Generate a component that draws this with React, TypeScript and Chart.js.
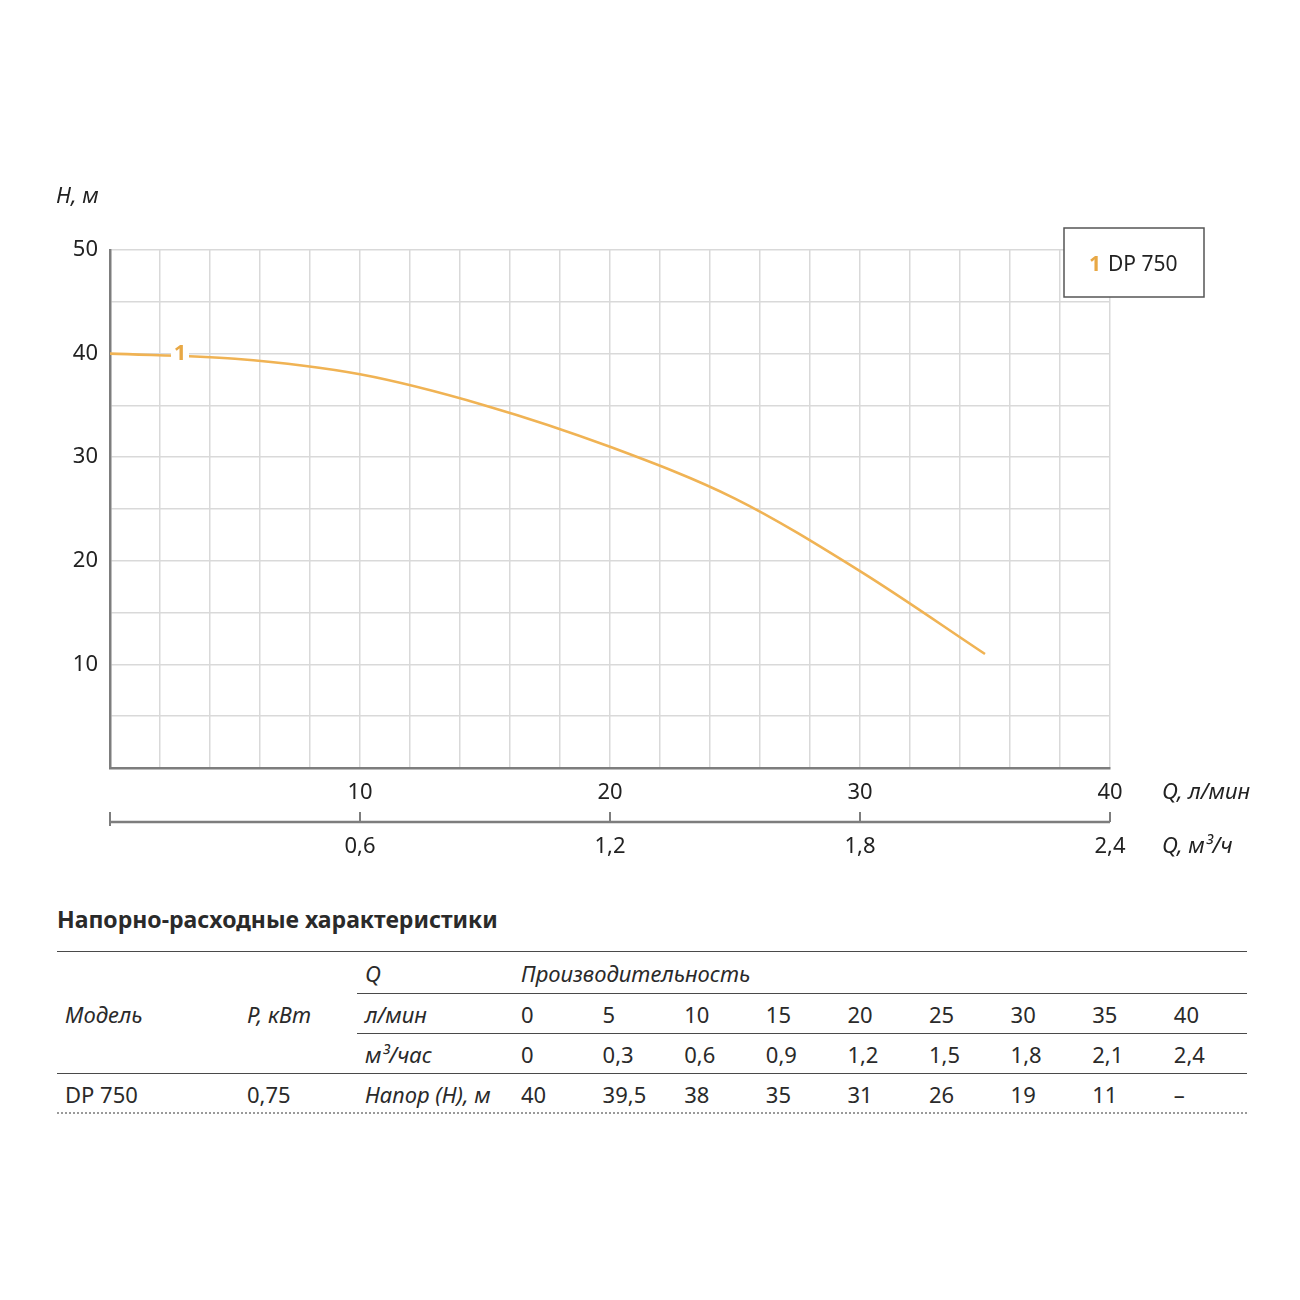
import React, { useEffect, useRef } from 'react';
import { Chart, registerables } from 'chart.js';

Chart.register(...registerables);

// ---- data ----
const flowLmin = [0, 5, 10, 15, 20, 25, 30, 35, 40];
const flowM3hLabels = ['0', '0,3', '0,6', '0,9', '1,2', '1,5', '1,8', '2,1', '2,4'];
const headM: (number | null)[] = [40, 39.5, 38, 35, 31, 26, 19, 11, null];
const headLabels = ['40', '39,5', '38', '35', '31', '26', '19', '11', '–'];
const x2TickValues = [0, 0.6, 1.2, 1.8, 2.4];
const modelName = 'DP 750';
const modelPower = '0,75';
const seriesNumber = '1';

const FONT = '"Noto Sans", sans-serif';
const CURVE = '#f0b354';
const LABEL_ORANGE = '#e8a845';
const AXIS = '#7d7d7d';
const GRID = '#d9d9d9';
const TEXT = '#222';

const fmt = (v: number) => String(Math.round(v * 10) / 10).replace('.', ',');

const overlayPlugin = {
  id: 'overlay',
  afterDraw(chart: any) {
    const ctx = chart.ctx as CanvasRenderingContext2D;
    const xs = chart.scales.x;
    const ys = chart.scales.y;
    const x2 = chart.scales.x2;
    ctx.save();

    // series label "1" on the curve
    const lx = xs.getPixelForValue(2.8);
    const ly = ys.getPixelForValue(40);
    ctx.fillStyle = '#fff';
    ctx.fillRect(lx - 9, ly - 12, 18, 24);
    ctx.font = `bold 22px ${FONT}`;
    ctx.fillStyle = LABEL_ORANGE;
    ctx.textAlign = 'center';
    ctx.textBaseline = 'middle';
    ctx.fillText(seriesNumber, lx, ly);

    // legend box
    ctx.fillStyle = '#fff';
    ctx.fillRect(1064, 228, 140, 69);
    ctx.strokeStyle = '#555';
    ctx.lineWidth = 1.5;
    ctx.strokeRect(1064, 228, 140, 69);
    ctx.textAlign = 'left';
    ctx.font = `bold 21px ${FONT}`;
    ctx.fillStyle = LABEL_ORANGE;
    ctx.fillText(seriesNumber, 1089, 265);
    ctx.font = `21px ${FONT}`;
    ctx.fillStyle = TEXT;
    ctx.fillText(modelName, 1108, 265);

    // axis titles
    ctx.font = `italic 22px ${FONT}`;
    ctx.fillStyle = TEXT;
    ctx.fillText('H, м', 56, 197);
    ctx.fillText('Q, л/мин', 1162, 793);
    ctx.fillText('Q, м³/ч', 1162, 847);

    // secondary axis (m3/h)
    const axisY = 822;
    ctx.strokeStyle = AXIS;
    ctx.lineWidth = 2.5;
    ctx.beginPath();
    ctx.moveTo(x2.getPixelForValue(0), axisY);
    ctx.lineTo(x2.getPixelForValue(2.4), axisY);
    ctx.stroke();
    ctx.lineWidth = 2;
    x2TickValues.forEach((v) => {
      const px = x2.getPixelForValue(v);
      ctx.beginPath();
      ctx.moveTo(px, axisY - 10);
      ctx.lineTo(px, axisY + (v === 0 ? 4 : 0));
      ctx.stroke();
    });
    ctx.font = `22px ${FONT}`;
    ctx.fillStyle = TEXT;
    ctx.textAlign = 'center';
    x2TickValues.forEach((v) => {
      if (v === 0) return;
      ctx.fillText(fmt(v), x2.getPixelForValue(v), 847);
    });
    ctx.restore();
  },
};

function PumpChart() {
  const ref = useRef<HTMLCanvasElement | null>(null);
  useEffect(() => {
    if (!ref.current) return;
    const points = flowLmin
      .map((q, i) => ({ x: q, y: headM[i] }))
      .filter((p) => p.y !== null) as { x: number; y: number }[];
    const chart = new Chart(ref.current, {
      type: 'line',
      data: {
        datasets: [
          {
            label: modelName,
            data: points,
            borderColor: CURVE,
            borderWidth: 2.6,
            pointRadius: 0,
            cubicInterpolationMode: 'monotone',
            fill: false,
          },
        ],
      },
      options: {
        responsive: false,
        animation: false,
        layout: { padding: { top: 250, right: 190, left: 0, bottom: 0 } },
        plugins: { legend: { display: false }, tooltip: { enabled: false } },
        scales: {
          x: {
            type: 'linear',
            position: 'bottom',
            min: 0,
            max: 40,
            weight: 0,
            afterFit: (s: any) => {
              s.height = 112;
            },
            grid: { color: GRID, lineWidth: 1.5, drawTicks: false },
            border: { color: AXIS, width: 2.5 },
            ticks: {
              stepSize: 2,
              autoSkip: false,
              maxRotation: 0,
              padding: 12,
              color: TEXT,
              font: { family: FONT, size: 22 },
              callback: (v: any) => (v % 10 === 0 && v !== 0 ? String(v) : ''),
            },
          },
          x2: {
            type: 'linear',
            position: 'bottom',
            min: 0,
            max: 2.4,
            display: false,
            weight: 1,
          },
          y: {
            type: 'linear',
            min: 0,
            max: 50,
            afterFit: (s: any) => {
              s.width = 110;
            },
            grid: { color: GRID, lineWidth: 1.5, drawTicks: false },
            border: { color: AXIS, width: 2.5 },
            ticks: {
              stepSize: 5,
              autoSkip: false,
              padding: 12,
              color: TEXT,
              font: { family: FONT, size: 22 },
              callback: (v: any) => (v % 10 === 0 && v !== 0 ? String(v) : ''),
            },
          },
        },
      },
      plugins: [overlayPlugin],
    } as any);
    return () => chart.destroy();
  }, []);
  return (
    <canvas
      ref={ref}
      width={1300}
      height={880}
      style={{ position: 'absolute', left: 0, top: 0, width: 1300, height: 880 }}
    />
  );
}

const colLeft = (i: number) => 521 + i * 81.6;

function Cell({ left, center, children, italic = false, bold = false, size = 22 }: any) {
  return (
    <div
      style={{
        position: 'absolute',
        left,
        top: center - 15,
        height: 30,
        lineHeight: '30px',
        fontSize: size,
        fontStyle: italic ? 'italic' : 'normal',
        fontWeight: bold ? 700 : 400,
        color: '#2a2a2a',
        whiteSpace: 'nowrap',
      }}
    >
      {children}
    </div>
  );
}

function HLine({ top, left, right, dotted = false }: any) {
  return (
    <div
      style={{
        position: 'absolute',
        left,
        top,
        width: right - left,
        height: 0,
        borderTop: dotted ? '2px dotted #9a9a9a' : '1.6px solid #4a4a4a',
      }}
    />
  );
}

function Table() {
  const r1 = 973, r2 = 1014, r3 = 1054, r4 = 1094;
  return (
    <>
      <Cell left={57} center={919} bold size={23}>Напорно-расходные характеристики</Cell>
      <HLine top={951} left={57} right={1247} />
      <Cell left={365} center={r1} italic>Q</Cell>
      <Cell left={521} center={r1} italic>Производительность</Cell>
      <HLine top={993} left={357} right={1247} />
      <Cell left={65} center={r2} italic>Модель</Cell>
      <Cell left={247} center={r2} italic>P, кВт</Cell>
      <Cell left={365} center={r2} italic>л/мин</Cell>
      {flowLmin.map((v, i) => (
        <Cell key={'q' + i} left={colLeft(i)} center={r2}>{String(v)}</Cell>
      ))}
      <HLine top={1033} left={357} right={1247} />
      <Cell left={365} center={r3} italic>м³/час</Cell>
      {flowM3hLabels.map((v, i) => (
        <Cell key={'m' + i} left={colLeft(i)} center={r3}>{v}</Cell>
      ))}
      <HLine top={1073} left={57} right={1247} />
      <Cell left={65} center={r4}>{modelName}</Cell>
      <Cell left={247} center={r4}>{modelPower}</Cell>
      <Cell left={365} center={r4} italic>Напор (Н), м</Cell>
      {headLabels.map((v, i) => (
        <Cell key={'h' + i} left={colLeft(i)} center={r4}>{v}</Cell>
      ))}
      <HLine top={1112} left={57} right={1247} dotted />
    </>
  );
}

export default function App() {
  return (
    <div
      style={{
        position: 'absolute',
        left: 0,
        top: 0,
        width: 1300,
        height: 1300,
        background: '#fff',
        fontFamily: FONT,
      }}
    >
      <PumpChart />
      <Table />
    </div>
  );
}
